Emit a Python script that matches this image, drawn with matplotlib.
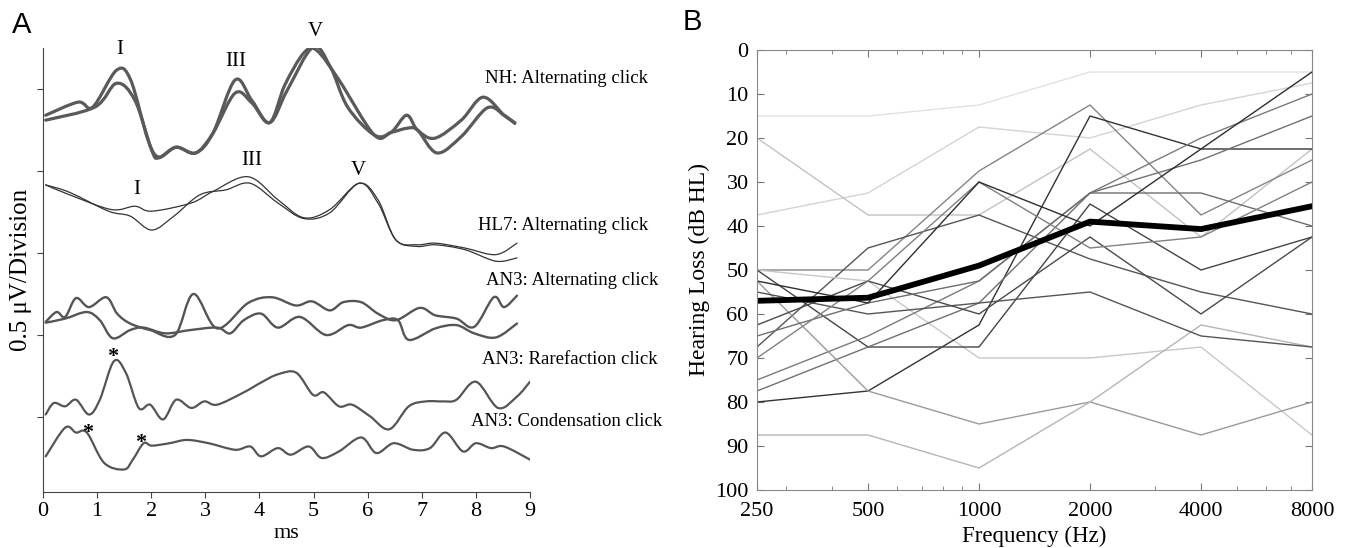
import numpy as np
import matplotlib
matplotlib.use("Agg")
import matplotlib.pyplot as plt
from matplotlib.path import Path
from matplotlib.patches import PathPatch
from matplotlib.ticker import FixedLocator, NullFormatter

plt.rcParams['font.family'] = ['Liberation Serif', 'DejaVu Serif']

# ---------------- Panel A: ABR waveforms (time in ms, amplitude in divisions) ----------------
nh_t1 = [0.05, 0.65, 0.92, 1.36, 1.62, 1.94, 2.14, 2.46, 2.82, 3.14, 3.55, 3.86, 4.19, 4.51, 4.99,
         5.31, 5.63, 6.12, 6.43, 6.72, 6.92, 7.24, 7.73, 8.13, 8.52, 8.72]
nh_a1 = [0, 0.16, 0.10, 0.55, 0.43, -0.30, -0.51, -0.39, -0.46, -0.22, 0.43, 0.18, -0.09, 0.30, 0.83,
         0.59, 0.10, -0.24, -0.21, 0, -0.18, -0.28, -0.06, 0.22, 0, -0.09]
nh_t2 = [0.05, 0.96, 1.36, 1.70, 2.01, 2.14, 2.46, 2.82, 3.14, 3.55, 3.86, 4.19, 4.47, 4.82, 5.06,
         5.47, 6.12, 6.43, 6.72, 6.92, 7.28, 7.73, 8.21, 8.52, 8.72]
nh_a2 = [-0.06, 0.10, 0.39, 0.18, -0.43, -0.52, -0.39, -0.46, -0.22, 0.27, 0.15, -0.09, 0.37, 0.76, 0.79,
         0.43, -0.24, -0.21, -0.16, -0.18, -0.46, -0.26, 0.09, 0, -0.10]

hl_t1 = [0.05, 0.49, 1.26, 1.70, 2.01, 2.74, 3.14, 3.79, 4.34, 4.82, 5.30, 5.84, 6.19, 6.52, 6.91,
         7.25, 7.80, 8.37, 8.76]
hl_a1 = [0.18, 0.06, -0.12, -0.08, -0.14, -0.04, 0.10, 0.28, 0, -0.22, -0.12, 0.20, 0, -0.49, -0.55,
         -0.53, -0.59, -0.67, -0.53]
hl_t2 = [0.05, 0.49, 1.21, 1.61, 2.01, 2.42, 2.90, 3.38, 3.83, 4.34, 4.82, 5.30, 5.84, 6.19, 6.52,
         6.91, 7.25, 7.80, 8.37, 8.76]
hl_a2 = [0.18, 0.09, -0.14, -0.20, -0.37, -0.20, 0.06, 0.12, 0.20, -0.04, -0.23, -0.16, 0.20, -0.04, -0.49,
         -0.57, -0.55, -0.61, -0.75, -0.71]

alt_t1 = [0.05, 0.25, 0.41, 0.61, 0.85, 1.17, 1.37, 1.61, 1.98, 2.44, 2.78, 3.22, 3.79, 4.23, 4.67,
          4.97, 5.30, 5.55, 5.88, 6.19, 6.52, 6.96, 7.25, 7.64, 7.97, 8.33, 8.52, 8.76]
alt_a1 = [-0.08, 0.04, -0.02, 0.21, 0.10, 0.22, 0.02, -0.10, -0.18, -0.24, 0.26, -0.16, 0.15, 0.22, 0.12,
          0.17, 0.06, 0.16, 0.16, 0.02, -0.06, 0.09, 0, -0.04, -0.14, 0.22, 0.10, 0.24]
alt_t2 = [0.05, 0.41, 0.81, 1.05, 1.29, 1.61, 1.86, 2.26, 2.72, 3.22, 3.46, 3.71, 4.03, 4.34, 4.75,
          5.23, 5.64, 5.88, 6.28, 6.56, 6.76, 7.25, 7.64, 7.97, 8.37, 8.76]
alt_a2 = [-0.09, -0.04, 0.04, -0.06, -0.28, -0.18, -0.15, -0.22, -0.18, -0.15, -0.22, -0.06, 0.02, -0.15, -0.02,
          -0.24, -0.12, -0.15, -0.06, -0.06, -0.30, -0.16, -0.12, -0.22, -0.27, -0.10]

rare_t = [0.05, 0.20, 0.41, 0.61, 0.85, 1.05, 1.31, 1.53, 1.77, 1.98, 2.22, 2.46, 2.74, 2.98, 3.22,
          3.71, 4.03, 4.34, 4.68, 4.99, 5.19, 5.47, 5.71, 6.04, 6.40, 6.76, 7.08, 7.40, 7.64, 8.00,
          8.41, 8.76, 9.00]
rare_a = [-0.12, 0.02, -0.02, 0.06, -0.12, 0.06, 0.53, 0.39, -0.04, 0, -0.18, 0.06, -0.04, 0.04, 0,
          0.15, 0.27, 0.37, 0.39, 0.12, 0.15, -0.02, 0, -0.14, -0.30, -0.02, 0.04, 0.04, 0.06, 0.28,
          -0.04, 0.10, 0.28]

cond_t = [0.05, 0.41, 0.61, 0.81, 1.13, 1.50, 1.66, 1.86, 2.01, 2.34, 2.66, 3.06, 3.55, 3.83, 4.03,
          4.34, 4.58, 4.91, 5.15, 5.47, 5.88, 6.16, 6.48, 6.84, 7.15, 7.44, 7.76, 8.00, 8.28, 8.52, 9.00]
cond_a = [-0.14, 0.21, 0.15, 0.15, -0.22, -0.30, -0.18, 0.02, -0.01, 0.02, 0.06, 0.02, -0.06, -0.02, -0.14,
          -0.04, -0.12, -0.02, -0.16, -0.08, 0.09, -0.10, 0.02, -0.06, -0.04, 0.15, -0.08, 0.02, -0.04, -0.02, -0.18]

trace_labels = ["NH: Alternating click", "HL7: Alternating click", "AN3: Alternating click",
                "AN3: Rarefaction click", "AN3: Condensation click"]

# ---------------- Panel B: audiograms ----------------
freqs = [250, 500, 1000, 2000, 4000, 8000]
subject_thresholds = [
    [15, 15, 12.5, 5, 5, 5],
    [37.5, 32.5, 17.5, 20, 12.5, 7.5],
    [20, 37.5, 37.5, 22.5, 42.5, 22.5],
    [50, 50, 27.5, 12.5, 37.5, 25],
    [67.5, 45, 37.5, 47.5, 55, 60],
    [50, 52.5, 70, 70, 67.5, 87.5],
    [80, 77.5, 62.5, 15, 22.5, 22.5],
    [50, 67.5, 67.5, 35, 50, 42.5],
    [75, 65, 52.5, 32.5, 20, 10],
    [77.5, 67.5, 57.5, 32.5, 25, 15],
    [52.5, 77.5, 85, 80, 87.5, 80],
    [87.5, 87.5, 95, 80, 62.5, 67.5],
    [55, 60, 57.5, 55, 65, 67.5],
    [62.5, 52.5, 60, 42.5, 60, 42.5],
    [65, 57.5, 52.5, 32.5, 32.5, 40],
    [70, 52.5, 30, 45, 42.5, 30],
    [52.5, 57.5, 30, 40, 22.5, 5],
]
mean_threshold = [57, 56.3, 49, 39, 40.7, 35.5]

subject_shades = ['#e2e2e2', '#d4d4d4', '#c2c2c2', '#858585', '#555555', '#c8c8c8', '#333333',
                  '#454545', '#7a7a7a', '#707070', '#9a9a9a', '#b5b5b5', '#555555', '#4a4a4a',
                  '#6e6e6e', '#808080', '#2e2e2e']

fig = plt.figure(figsize=(13.47, 5.48), dpi=100)
W, H = 1347, 548

# ---- Panel A ----
ax_a = fig.add_axes([43 / W, 1 - 492 / H, 487 / W, 444 / H])
ax_a.set_xlim(0, 9)
ax_a.set_ylim(0.085, 5.5)

baselines = [4.68, 3.65, 2.24, 1.15, 0.66]


def draw(t, a, base, **kw):
    # smooth curve through the read points (Catmull-Rom drawn as cubic Bezier segments)
    pts = np.column_stack([t, np.asarray(a) + base])
    n = len(pts)
    verts = [pts[0]]
    codes = [Path.MOVETO]
    for i in range(n - 1):
        p0 = pts[max(i - 1, 0)]
        p1, p2 = pts[i], pts[i + 1]
        p3 = pts[min(i + 2, n - 1)]
        verts += [p1 + (p2 - p0) / 6, p2 - (p3 - p1) / 6, p2]
        codes += [Path.CURVE4] * 3
    ax_a.add_patch(PathPatch(Path(verts, codes), fill=False, joinstyle='round',
                             capstyle='round', **kw))


draw(nh_t1, nh_a1, baselines[0], edgecolor='#5a5a5a', lw=2.3)
draw(nh_t2, nh_a2, baselines[0], edgecolor='#5a5a5a', lw=2.3)
draw(hl_t1, hl_a1, baselines[1], edgecolor='#333333', lw=0.9)
draw(hl_t2, hl_a2, baselines[1], edgecolor='#333333', lw=0.9)
draw(alt_t1, alt_a1, baselines[2], edgecolor='#555555', lw=1.7)
draw(alt_t2, alt_a2, baselines[2], edgecolor='#555555', lw=1.7)
draw(rare_t, rare_a, baselines[3], edgecolor='#555555', lw=1.6)
draw(cond_t, cond_a, baselines[4], edgecolor='#555555', lw=1.6)

label_pos = [(11.18, 5.13), (11.18, 3.34), (11.37, 2.66), (11.35, 1.70), (11.44, 0.94)]
for txt, (x, y) in zip(trace_labels, label_pos):
    ax_a.text(x, y, txt, ha='right', va='center', fontsize=13.5, clip_on=False)

peak_marks = [("I", 1.42, 5.48), ("III", 3.57, 5.33), ("V", 5.03, 5.70),
              ("I", 1.74, 3.77), ("III", 3.86, 4.13), ("V", 5.82, 4.01)]
for txt, x, y in peak_marks:
    ax_a.text(x, y, txt, ha='center', va='center', fontsize=15, clip_on=False)
for x, y in [(1.28, 1.73), (0.83, 0.81), (1.81, 0.68)]:
    ax_a.text(x, y, "*", ha='center', va='center', fontsize=16, fontweight='bold', clip_on=False)

for s in ['top', 'right']:
    ax_a.spines[s].set_visible(False)
for s in ['left', 'bottom']:
    ax_a.spines[s].set_color('#444444')
ax_a.set_xticks(range(10))
ax_a.set_yticks([1, 2, 3, 4, 5])
ax_a.set_yticklabels([])
ax_a.tick_params(axis='x', labelsize=16, direction='out', length=4, color='#444444')
ax_a.tick_params(axis='y', direction='out', length=4, color='#444444')
ax_a.set_xlabel("ms", fontsize=16, labelpad=2)
ax_a.set_ylabel("0.5 \u03bcV/Division", fontsize=18)
ax_a.yaxis.set_label_coords(-22 / 487, 0.5)
ax_a.yaxis.label.set_va('center')
fig.text(22 / W, 1 - 25 / H, "A", fontsize=21, family='Liberation Sans', ha='center', va='center')

# ---- Panel B ----
ax_b = fig.add_axes([757 / W, 1 - 490 / H, 555 / W, 440 / H])
for row, shade in zip(subject_thresholds, subject_shades):
    ax_b.plot(freqs, row, color=shade, lw=1.0)
ax_b.plot(freqs, mean_threshold, color='black', lw=4.2, solid_joinstyle='round')

ax_b.set_xscale('log')
ax_b.set_xlim(250, 8000)
ax_b.set_ylim(100, 0)
ax_b.xaxis.set_major_locator(FixedLocator(freqs))
ax_b.set_xticklabels([str(f) for f in freqs])
ax_b.xaxis.set_minor_locator(FixedLocator([300, 400, 600, 700, 800, 900, 3000, 5000, 6000, 7000]))
ax_b.xaxis.set_minor_formatter(NullFormatter())
ax_b.set_yticks(range(0, 101, 10))
ax_b.tick_params(which='both', direction='in', top=True, right=True, color='#777777')
ax_b.tick_params(which='major', length=5, labelsize=16)
ax_b.tick_params(axis='x', which='major', pad=9)
ax_b.tick_params(axis='y', which='major', pad=6)
ax_b.tick_params(which='minor', length=3)
for s in ax_b.spines.values():
    s.set_color('#888888')
ax_b.set_xlabel("Frequency (Hz)", fontsize=16.5, labelpad=3)
ax_b.set_ylabel("Hearing Loss (dB HL)", fontsize=17, labelpad=4)
fig.text(692 / W, 1 - 22 / H, "B", fontsize=21, family='Liberation Sans', ha='center', va='center')

fig.savefig("out.png", dpi=100)
